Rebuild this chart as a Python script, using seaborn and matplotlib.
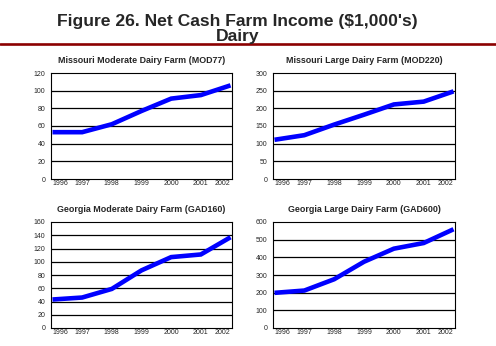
import matplotlib
matplotlib.use("Agg")
import matplotlib.pyplot as plt
import seaborn as sns
import pandas as pd
from matplotlib.lines import Line2D

years = [1996, 1997, 1998, 1999, 2000, 2001, 2002]
year_labels = ["1996", "1997", "1998", "1999", "2000", "2001", "2002"]
mod77 = [53, 53, 62, 77, 91, 95, 106]
mod220 = [111, 124, 154, 182, 211, 219, 248]
gad160 = [43, 46, 59, 87, 107, 111, 137]
gad600 = [199, 212, 276, 375, 449, 481, 559]

titles = ["Missouri Moderate Dairy Farm (MOD77)",
          "Missouri Large Dairy Farm (MOD220)",
          "Georgia Moderate Dairy Farm (GAD160)",
          "Georgia Large Dairy Farm (GAD600)"]
series = [mod77, mod220, gad160, gad600]
ymaxes = [120, 300, 160, 600]
ysteps = [20, 50, 20, 100]

sns.set_style("white")
plt.rcParams['font.family'] = ['Liberation Sans', 'DejaVu Sans']

W, H = 496, 346
fig = plt.figure(figsize=(W / 100, H / 100), dpi=100)

fig.text(237 / W, 1 - 26 / H, "Figure 26. Net Cash Farm Income ($1,000's)",
         ha="center", va="baseline", fontsize=12.6, fontweight="bold")
fig.text(238 / W, 1 - 41 / H, "Dairy", ha="center", va="baseline",
         fontsize=12.6, fontweight="bold")
fig.add_artist(Line2D([0, 1], [1 - 44 / H, 1 - 44 / H], color="#8B0000",
                      linewidth=1.9, transform=fig.transFigure))

boxes = [(51, 73, 232, 179), (273, 73, 455, 179),
         (51, 222, 232, 328), (273, 222, 455, 328)]

for (x0, y0, x1, y1), title, vals, ymax, ystep in zip(boxes, titles, series, ymaxes, ysteps):
    ax = fig.add_axes([x0 / W, 1 - y1 / H, (x1 - x0) / W, (y1 - y0) / H])
    df = pd.DataFrame({"year": years, "value": vals})
    sns.lineplot(data=df, x="year", y="value", ax=ax, color="#0000FF",
                 linewidth=3.3, solid_capstyle="butt", solid_joinstyle="miter",
                 clip_on=False, zorder=5)
    ax.set_xlim(1995.95, 2002.05)
    ax.set_ylim(0, ymax)
    yt = list(range(0, ymax + 1, ystep))
    ax.set_yticks(yt)
    ax.set_yticklabels([str(v) for v in yt], fontsize=5)
    ax.set_xticks(years)
    xl = ax.set_xticklabels(year_labels, fontsize=5)
    xl[0].set_horizontalalignment("left")
    xl[-1].set_horizontalalignment("right")
    ax.tick_params(axis="x", length=2, width=0.6, pad=1, direction="in", color="black")
    ax.tick_params(axis="y", length=2, width=0.8, pad=2, direction="out", color="black")
    for v in yt[1:-1]:
        ax.axhline(v, color="black", linewidth=0.9, zorder=1)
    for s in ax.spines.values():
        s.set_color("black")
        s.set_linewidth(0.8)
    ax.set_xlabel("")
    ax.set_ylabel("")
    ax.set_title(title, fontsize=6.4, fontweight="bold", pad=7)

fig.savefig("out.png", dpi=100)
